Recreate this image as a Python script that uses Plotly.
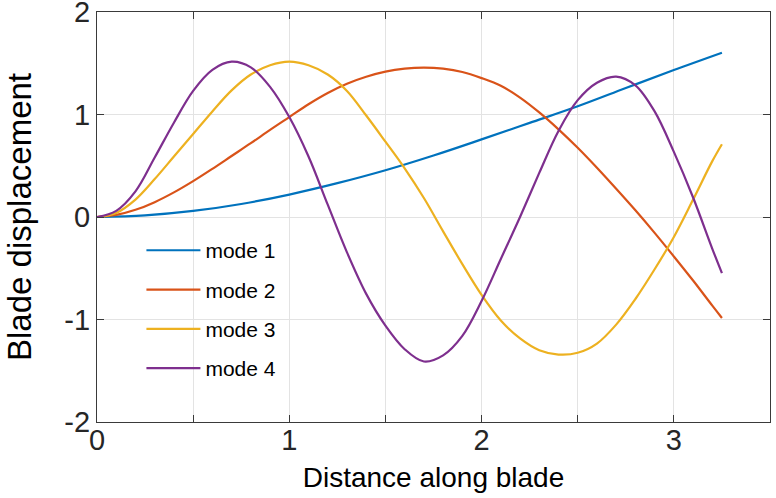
import plotly.graph_objects as go

# Blade mode shapes: displacement sampled along the blade
mode1_x = [0, 0.25, 0.5, 0.75, 1.0, 1.25, 1.5, 1.75, 2.0, 2.25, 2.5, 2.75, 3.0, 3.25]
mode1_y = [0, 0.016, 0.059, 0.127, 0.219, 0.33, 0.456, 0.60, 0.757, 0.918, 1.08, 1.258, 1.434, 1.603]

mode2_x = [0, 0.1, 0.2, 0.3, 0.4, 0.5, 0.6, 0.7, 0.8, 0.9, 1.0, 1.1, 1.2, 1.3, 1.4, 1.5, 1.6,
           1.7, 1.8, 1.9, 2.0, 2.1, 2.2, 2.3, 2.4, 2.5, 2.6, 2.7, 2.8, 2.9, 3.0, 3.1, 3.2, 3.25]
mode2_y = [0, 0.02, 0.07, 0.145, 0.24, 0.35, 0.47, 0.595, 0.72, 0.85, 0.975, 1.10, 1.21, 1.30, 1.368, 1.418, 1.447,
           1.457, 1.447, 1.415, 1.355, 1.28, 1.165, 1.02, 0.855, 0.675, 0.48, 0.275, 0.065, -0.155, -0.385, -0.62, -0.865, -0.985]

mode3_x = [0, 0.1, 0.2, 0.3, 0.4, 0.5, 0.6, 0.7, 0.8, 0.9, 1.0, 1.1, 1.2, 1.3, 1.4, 1.5, 1.6,
           1.7, 1.8, 1.9, 2.0, 2.1, 2.2, 2.3, 2.4, 2.5, 2.6, 2.7, 2.8, 2.9, 3.0, 3.1, 3.2, 3.25]
mode3_y = [0, 0.04, 0.17, 0.37, 0.59, 0.81, 1.03, 1.235, 1.39, 1.48, 1.515, 1.48, 1.39, 1.23, 0.99, 0.735, 0.475,
           0.185, -0.14, -0.46, -0.76, -1.01, -1.185, -1.30, -1.342, -1.325, -1.235, -1.05, -0.80, -0.51, -0.195, 0.17, 0.545, 0.71]

mode4_x = [0, 0.1, 0.2, 0.3, 0.4, 0.5, 0.6, 0.7, 0.8, 0.9, 1.0, 1.1, 1.2, 1.3, 1.4, 1.5, 1.6,
           1.7, 1.8, 1.9, 2.0, 2.1, 2.2, 2.3, 2.4, 2.5, 2.6, 2.7, 2.8, 2.9, 3.0, 3.1, 3.2, 3.25]
mode4_y = [0, 0.06, 0.25, 0.58, 0.92, 1.23, 1.435, 1.515, 1.46, 1.27, 0.975, 0.59, 0.12, -0.345, -0.75, -1.06, -1.29,
           -1.41, -1.35, -1.16, -0.82, -0.41, 0.0, 0.43, 0.84, 1.14, 1.31, 1.37, 1.285, 1.03, 0.635, 0.19, -0.31, -0.547]

series = [
    ("mode 1", mode1_x, mode1_y, "#0072BD"),
    ("mode 2", mode2_x, mode2_y, "#D95319"),
    ("mode 3", mode3_x, mode3_y, "#EDB120"),
    ("mode 4", mode4_x, mode4_y, "#7E2F8E"),
]

x_ticks = [0, 0.5, 1, 1.5, 2, 2.5, 3, 3.5]
x_tick_text = ["0", "", "1", "", "2", "", "3", ""]
y_ticks = [-2, -1, 0, 1, 2]
y_tick_text = ["-2", "-1", "0", "1", "2"]

FONT = "Liberation Sans, Arial, Helvetica, sans-serif"
INK = "#262626"

fig = go.Figure()
for i, (name, xs, ys, color) in enumerate(series):
    fig.add_trace(go.Scatter(
        x=xs, y=ys, name=name, mode="lines",
        line=dict(color=color, width=2.2, shape="spline", smoothing=1.0),
        legendgroup=f"g{i}",
    ))

axis_common = dict(
    showline=True, linecolor="#3a3a3a", linewidth=1.2, mirror="ticks",
    ticks="inside", ticklen=7, tickwidth=1, tickcolor="#3a3a3a",
    showgrid=True, gridcolor="#e3e3e3", gridwidth=1,
    zeroline=False, ticklabeloverflow="allow", automargin=False,
    tickfont=dict(family=FONT, size=29, color=INK),
)

fig.update_layout(
    width=776, height=498,
    margin=dict(l=97, r=6, t=12, b=76, autoexpand=False),
    paper_bgcolor="white", plot_bgcolor="white",
    font=dict(family=FONT, color=INK),
    showlegend=True,
    legend=dict(
        x=0.066, y=0.468, xanchor="left", yanchor="top",
        bgcolor="rgba(255,255,255,0)", borderwidth=0,
        font=dict(family=FONT, size=21, color="#000000"),
        tracegroupgap=9, itemwidth=54,
    ),
)
fig.update_xaxes(
    range=[0, 3.5], tickmode="array", tickvals=x_ticks, ticktext=x_tick_text,
    title=dict(text="Distance along blade", font=dict(family=FONT, size=28, color="#000000"), standoff=12),
    ticklabelstandoff=-8,
    **axis_common,
)
fig.update_yaxes(
    range=[-2, 2], tickmode="array", tickvals=y_ticks, ticktext=y_tick_text,
    title=dict(text="Blade displacement", font=dict(family=FONT, size=33, color="#000000"), standoff=22),
    ticklabelstandoff=0,
    **axis_common,
)

fig.write_html("out.html")
